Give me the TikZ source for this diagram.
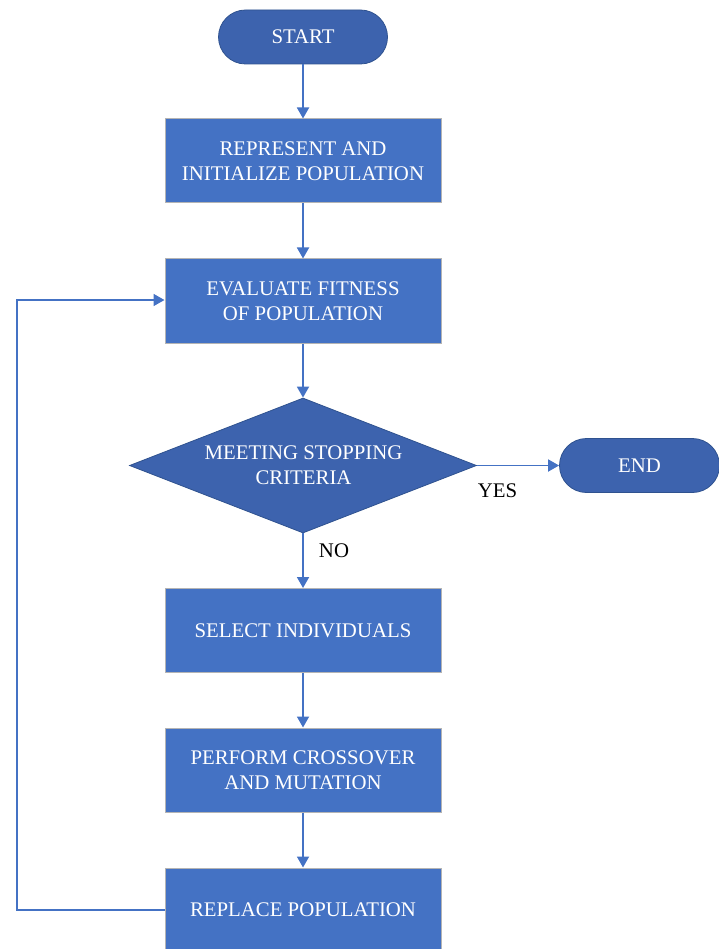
\documentclass[tikz,border=0pt]{standalone}
\usepackage{fontspec}
\setmainfont{Liberation Serif}
\usetikzlibrary{arrows.meta,shapes.geometric}
\definecolor{boxblue}{HTML}{4472C4}
\definecolor{termblue}{HTML}{3D63AE}
\definecolor{termedge}{HTML}{2F528F}
\definecolor{boxedge}{HTML}{B4B4B4}
\tikzset{
  x=1pt,y=-1pt,
  every node/.style={font=\fontsize{20.8}{25}\selectfont},
  procbox/.style={draw=boxedge,line width=1pt,fill=boxblue,text=white,minimum width=276pt,minimum height=84pt,align=center,inner sep=0pt},
  termbox/.style={draw=termedge,line width=0.8pt,fill=termblue,text=white,rounded corners=27pt,minimum height=54pt,inner sep=0pt},
  decbox/.style={draw=termedge,line width=0.8pt,fill=termblue,shape=diamond,minimum width=347pt,minimum height=135pt,inner sep=0pt},
  conn/.style={draw=boxblue,line width=1.8pt,-{Triangle[length=11pt,width=12pt]}},
  lbl/.style={text=black,inner sep=0pt}
}
\begin{document}
\begin{tikzpicture}
\useasboundingbox (0,0) rectangle (719,949);
\begin{scope}
\clip (0,0) rectangle (719,949);
\node[termbox,minimum width=169pt] (start) at (303,37) {START};
\node[procbox] (b1) at (303,161) {REPRESENT AND\\INITIALIZE POPULATION};
\node[procbox] (b2) at (303,301) {EVALUATE FITNESS\\OF POPULATION};
\node[decbox] (dec) at (303,465.5) {};
\node[text=white,align=center,inner sep=0pt] (dectext) at (303.5,465) {MEETING STOPPING\\CRITERIA};
\node[termbox,minimum width=160pt] (end) at (639.5,465.5) {END};
\node[procbox] (b3) at (303,630.5) {SELECT INDIVIDUALS};
\node[procbox] (b4) at (303,770) {PERFORM CROSSOVER\\AND MUTATION};
\node[procbox] (b5) at (303,910) {REPLACE POPULATION};
\end{scope}
\coordinate (lb) at (17,910);
\coordinate (lt) at (17,300);
\draw[conn] (start) -- (b1);
\draw[conn] (b1) -- (b2);
\draw[conn] (b2) -- (dec);
\draw[conn] (dec) -- (end);
\draw[conn] (dec) -- (b3);
\draw[conn] (b3) -- (b4);
\draw[conn] (b4) -- (b5);
\draw[conn] (b5.west) -- (lb) -- (lt) -- (b2.west |- lt);
\node[lbl] (yes) at (497.5,491) {YES};
\node[lbl] (no) at (334,551) {NO};
\end{tikzpicture}
\end{document}
